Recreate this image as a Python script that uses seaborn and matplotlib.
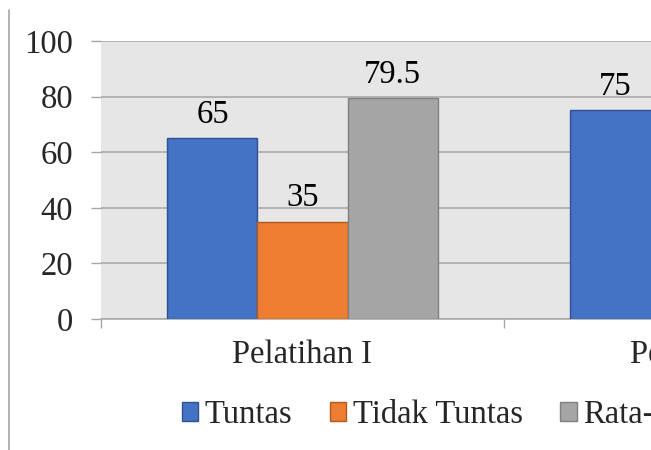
import matplotlib
matplotlib.use("Agg")
import matplotlib.pyplot as plt
import seaborn as sns
import pandas as pd
from matplotlib.lines import Line2D

categories = ["Pelatihan I", "Pelatihan II"]
series_names = ["Tuntas", "Tidak Tuntas", "Rata-rata"]
tuntas = [65, 75]
tidak_tuntas = [35, 25]
rata_rata = [79.5, 80]
y_ticks = [0, 20, 40, 60, 80, 100]

colors = ["#4472C4", "#ED7D31", "#A5A5A5"]
edges = ["#2F528F", "#AE5A21", "#7F7F7F"]

rows = []
for name, vals in zip(series_names, [tuntas, tidak_tuntas, rata_rata]):
    for c, v in zip(categories, vals):
        rows.append({"Kategori": c, "Seri": name, "Nilai": v})
df = pd.DataFrame(rows)

sns.set_style("white")
plt.rcParams["font.family"] = ["Liberation Serif", "DejaVu Serif"]
FS = 23.5

W, H = 651, 450
fig = plt.figure(figsize=(W / 100, H / 100), dpi=100)
ax = fig.add_axes([101 / W, 1 - 319 / H, 806 / W, 278 / H])
ax.set_facecolor("#E7E6E6")

sns.barplot(data=df, x="Kategori", y="Nilai", hue="Seri", order=categories,
            hue_order=series_names, palette=colors, saturation=1, width=0.67, ax=ax,
            errorbar=None, legend=True, zorder=3)

for cont, ec in zip(ax.containers, edges):
    for p in cont:
        p.set_edgecolor(ec)
        p.set_linewidth(1.0)
    ax.bar_label(cont, fmt="%g", padding=6, fontsize=FS, color="black")

ax.set_xlim(-0.5, 1.5)
ax.set_ylim(0, 100)
ax.set_yticks(y_ticks)
ax.set_yticklabels([str(t) for t in y_ticks], fontsize=FS)
ax.yaxis.grid(True, color="#A6A6A6", linewidth=1.1, zorder=0)
ax.set_axisbelow(True)
ax.tick_params(axis="y", length=7, width=1.0, color="#A6A6A6", pad=13, left=True)

ax.set_xticks([0, 1])
ax.set_xticklabels(categories, fontsize=FS)
ax.set_xticks([-0.5, 0.5, 1.5], minor=True)
ax.tick_params(axis="x", which="major", length=0, pad=15)
ax.tick_params(axis="x", which="minor", length=6.5, width=1.0, color="#A6A6A6", bottom=True)
ax.set_xlabel("")
ax.set_ylabel("")

for s in ["left", "right", "top"]:
    ax.spines[s].set_visible(False)
ax.spines["bottom"].set_color("#A6A6A6")
ax.spines["bottom"].set_linewidth(1.1)

handles, labels = ax.get_legend_handles_labels()
ax.get_legend().remove()
for h, ec in zip(handles, edges):
    h.set_edgecolor(ec)
fig.legend(handles, labels, loc="center left", bbox_to_anchor=(182 / W, 1 - 415 / H),
           ncol=3, frameon=False, fontsize=FS, handlelength=0.5, handleheight=0.5,
           handletextpad=0.2, columnspacing=1.15, borderpad=0, borderaxespad=0)

fig.add_artist(Line2D([8.5 / W, 8.5 / W], [0, 1 - 10 / H], transform=fig.transFigure,
                      color="#A6A6A6", linewidth=1.2))

fig.savefig("out.png", dpi=100)
